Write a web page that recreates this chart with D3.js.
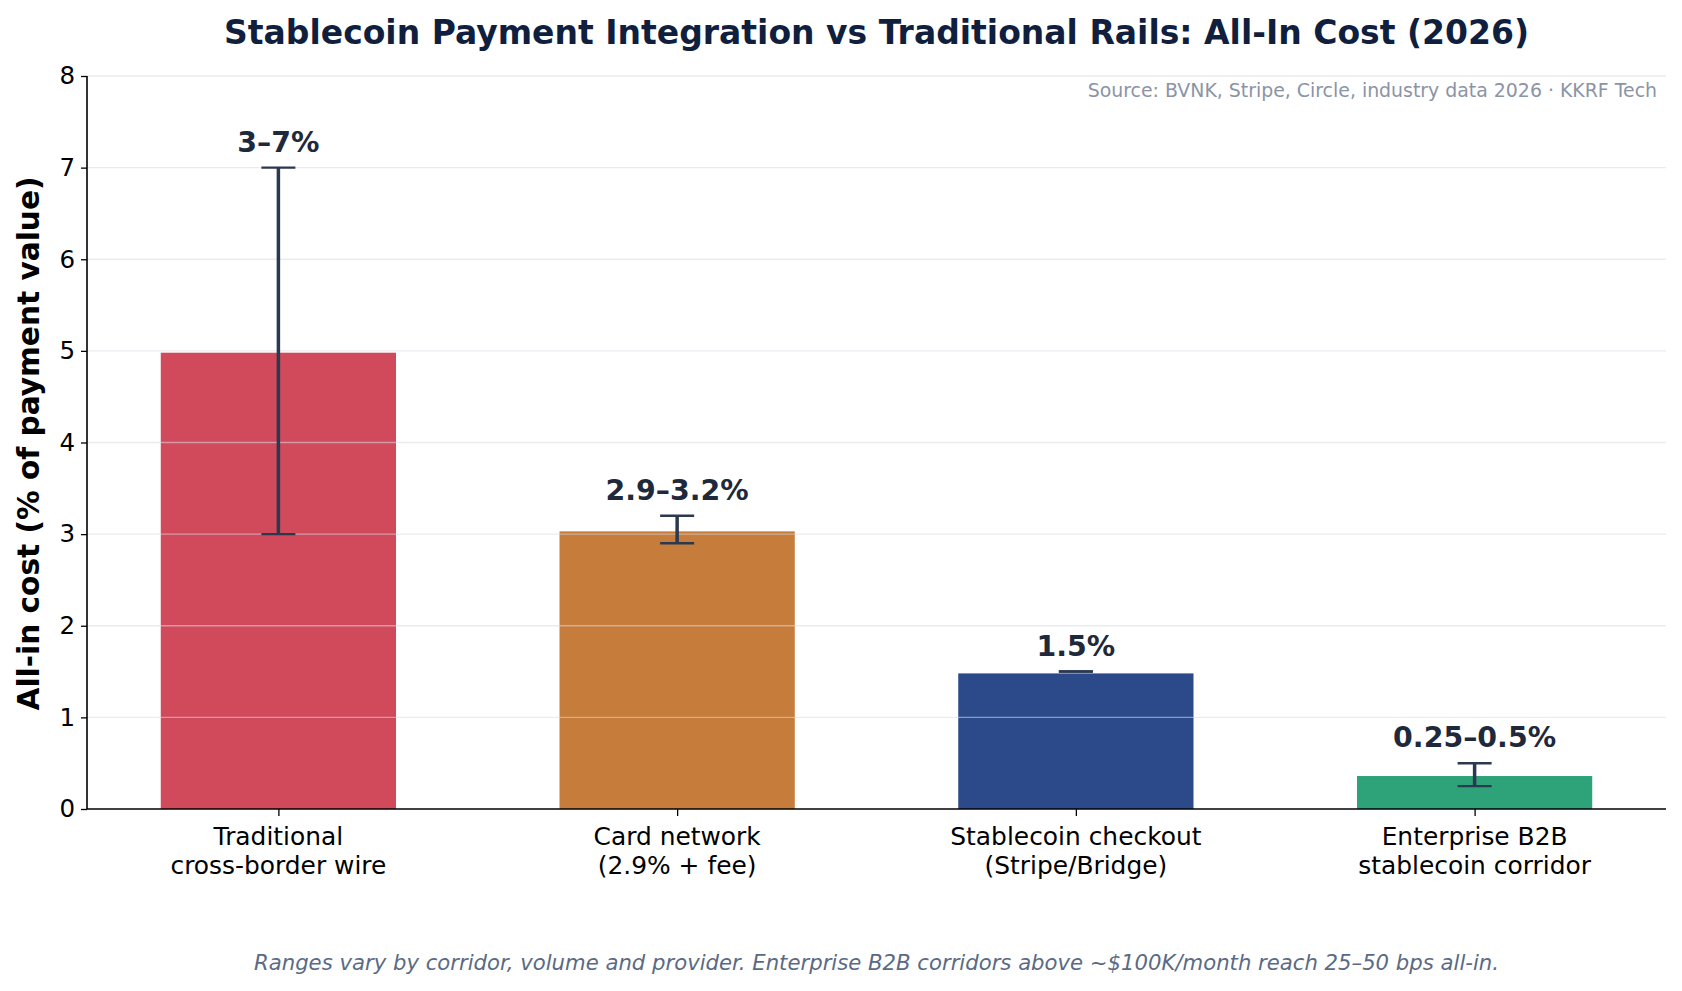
<!DOCTYPE html>
<html><head><meta charset="utf-8">
<script src="https://cdn.jsdelivr.net/npm/d3@7"></script>
<style>body{margin:0;background:#fff}svg{display:block}text{font-family:"DejaVu Sans",sans-serif}</style>
</head><body><div id="c"></div>
<script>
const categories = [["Traditional","cross-border wire"],["Card network","(2.9% + fee)"],["Stablecoin checkout","(Stripe/Bridge)"],["Enterprise B2B","stablecoin corridor"]];
const values = [4.98, 3.03, 1.48, 0.36];
const lows = [3, 2.9, 1.5, 0.25];
const highs = [7, 3.2, 1.5, 0.5];
const valueLabels = ["3\u20137%","2.9\u20133.2%","1.5%","0.25\u20130.5%"];
const colors = ["#D14A5C","#C67C3A","#2C4A8A","#2EA37A"];
const yTicks = [0,1,2,3,4,5,6,7,8];

const W=1682,H=991;
const m={l:87,r:1666,t:76,b:809};
const svg=d3.select("#c").append("svg").attr("width",W).attr("height",H);

const x=d3.scaleLinear().domain([-0.48,3.48]).range([m.l,m.r]);
const y=d3.scaleLinear().domain([0,8]).range([m.b,m.t]);
const bw=x(0.59)-x(0);

// bars
svg.append("g").selectAll("rect").data(values).join("rect")
  .attr("x",(d,i)=>x(i)-bw/2).attr("width",bw)
  .attr("y",d=>y(d)).attr("height",d=>y(0)-y(d))
  .attr("fill",(d,i)=>colors[i]);

// grid (drawn over bars)
svg.append("g").selectAll("line").data(yTicks.slice(1)).join("line")
  .attr("x1",m.l).attr("x2",m.r).attr("y1",d=>y(d)).attr("y2",d=>y(d))
  .attr("stroke","#d9dde3").attr("stroke-opacity",0.55).attr("stroke-width",1.3);

// error bars
const eb=svg.append("g").attr("stroke","#2B3950");
values.forEach((v,i)=>{
  const cx=x(i);
  if(highs[i]>lows[i]) eb.append("line").attr("x1",cx).attr("x2",cx).attr("y1",y(lows[i])).attr("y2",y(highs[i])).attr("stroke-width",3.5);
  [lows[i],highs[i]].forEach(e=>eb.append("line").attr("x1",cx-17).attr("x2",cx+17).attr("y1",y(e)).attr("y2",y(e)).attr("stroke-width",2.4));
});

// value labels
svg.append("g").selectAll("text").data(valueLabels).join("text")
  .attr("x",(d,i)=>x(i)).attr("y",(d,i)=>y(highs[i])-16)
  .attr("text-anchor","middle").attr("font-weight","bold").attr("font-size",28.4)
  .attr("fill","#1E293B").text(d=>d);

// axes
const ya=d3.axisLeft(y).tickValues(yTicks).tickSize(6).tickPadding(6);
const yg=svg.append("g").attr("transform",`translate(${m.l},0)`).call(ya);
yg.select(".domain").attr("d",`M0,${m.b}V${m.t}`).attr("stroke","#000").attr("stroke-width",1.6);
yg.selectAll(".tick line").attr("stroke","#000").attr("stroke-width",1.3);
yg.selectAll(".tick text").attr("font-size",24.5).attr("fill","#000").attr("font-family","DejaVu Sans");

const xa=d3.axisBottom(x).tickValues([0,1,2,3]).tickSize(7).tickFormat("");
const xg=svg.append("g").attr("transform",`translate(0,${m.b})`).call(xa);
xg.select(".domain").attr("d",`M${m.l},0H${m.r}`).attr("stroke","#000").attr("stroke-width",1.6);
xg.selectAll(".tick line").attr("stroke","#000").attr("stroke-width",1.3);
categories.forEach((c,i)=>{
  const t=svg.append("text").attr("x",x(i)).attr("text-anchor","middle").attr("font-size",24.9).attr("fill","#000");
  c.forEach((s,j)=>t.append("tspan").attr("x",x(i)).attr("y",845+j*28.5).text(s));
});

// y label
svg.append("text").attr("transform",`translate(39,${(m.t+m.b)/2+1}) rotate(-90)`)
  .attr("text-anchor","middle").attr("font-weight","bold").attr("font-size",29.6).attr("fill","#000")
  .text("All-in cost (% of payment value)");

// title
svg.append("text").attr("x",(m.l+m.r)/2).attr("y",44).attr("text-anchor","middle")
  .attr("font-weight","bold").attr("font-size",33).attr("fill","#0F1F3D")
  .text("Stablecoin Payment Integration vs Traditional Rails: All-In Cost (2026)");

// source
svg.append("text").attr("x",1657).attr("y",97).attr("text-anchor","end")
  .attr("font-size",18.9).attr("fill","#8A94A6")
  .text("Source: BVNK, Stripe, Circle, industry data 2026 \u00b7 KKRF Tech");

// footer
svg.append("text").attr("x",(m.l+m.r)/2).attr("y",970).attr("text-anchor","middle")
  .attr("font-style","italic").attr("font-size",21.2).attr("fill","#5A6A85")
  .text("Ranges vary by corridor, volume and provider. Enterprise B2B corridors above ~$100K/month reach 25\u201350 bps all-in.");
</script></body></html>
